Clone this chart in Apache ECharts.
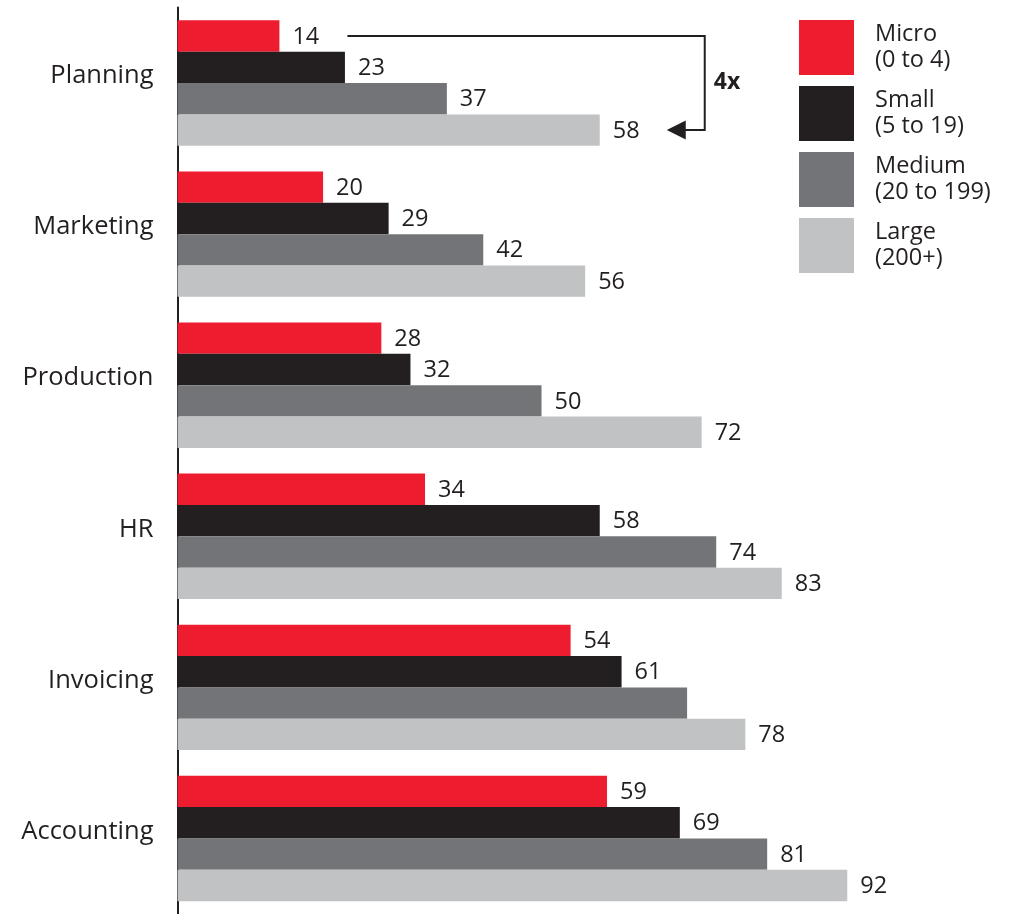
<!DOCTYPE html>
<html>
<head>
<meta charset="utf-8">
<script src="https://cdn.jsdelivr.net/npm/echarts@6/dist/echarts.min.js"></script>
<style>
  html, body { margin: 0; padding: 0; background: #fff; }
  #chart { width: 1013px; height: 914px; }
</style>
</head>
<body>
<div id="chart"></div>
<script>
// Business functions, top to bottom
const functions = ['Planning', 'Marketing', 'Production', 'HR', 'Invoicing', 'Accounting'];
// Firm size classes (number of employees)
const sizes = ['Micro', 'Small', 'Medium', 'Large'];
const sizeRanges = ['(0 to 4)', '(5 to 19)', '(20 to 199)', '(200+)'];
const sizeColors = ['#ED1C2E', '#231F20', '#737477', '#C1C2C4'];

// Share of firms (%) per function and size class
const micro  = [14, 20, 28, 34, 54, 59];
const small  = [23, 29, 32, 58, 61, 69];
const medium = [37, 42, 50, 74, 70, 81];
const large  = [58, 56, 72, 83, 78, 92];
// Values without a printed label
const unlabeled = { Medium: ['Invoicing'] };

const FONT = '"Open Sans", "Noto Sans", sans-serif';
const INK = '#231F20';
const CAT_GAP = 0.17;

const seriesValues = [micro, small, medium, large];

const chart = echarts.init(document.getElementById('chart'), null, { renderer: 'canvas' });

const series = sizes.map((name, i) => ({
  name: name,
  type: 'bar',
  data: seriesValues[i].map((v, j) => ({
    value: v,
    label: { show: !((unlabeled[name] || []).includes(functions[j])) }
  })),
  itemStyle: { color: sizeColors[i] },
  barGap: '0%',
  barCategoryGap: (CAT_GAP * 100) + '%',
  label: {
    show: true,
    position: 'right',
    distance: 13,
    offset: [0, 1],
    color: INK,
    fontFamily: FONT,
    fontSize: 23.5
  },
  silent: true
}));

chart.setOption({
  animation: false,
  backgroundColor: '#fff',
  grid: { left: 177.5, top: 7.5, width: 728, height: 910, containLabel: false },
  xAxis: {
    type: 'value', min: 0, max: 100,
    show: false
  },
  yAxis: {
    type: 'category',
    data: functions,
    inverse: true,
    axisLine: { show: true, lineStyle: { color: INK, width: 2 } },
    axisTick: { show: false },
    axisLabel: {
      color: INK, fontFamily: FONT, fontSize: 25.5, margin: 24,
      verticalAlign: 'bottom', lineHeight: 14
    }
  },
  legend: {
    orient: 'vertical',
    left: 799, top: 20,
    padding: 0,
    itemWidth: 55, itemHeight: 55, itemGap: 11,
    icon: 'rect',
    selectedMode: false,
    data: sizes,
    formatter: name => name + '\n' + sizeRanges[sizes.indexOf(name)],
    textStyle: {
      color: INK, fontFamily: FONT, fontSize: 23.5, lineHeight: 25.5,
      padding: [0, 0, 0, 16]
    }
  },
  series: series
});

// "4x" comparison bracket: from the Micro label to the Large bar in the first group
function drawBracket() {
  const cat0 = chart.convertToPixel({ gridIndex: 0 }, [0, 0]);
  const cat1 = chart.convertToPixel({ gridIndex: 0 }, [0, 1]);
  const band = Math.abs(cat1[1] - cat0[1]);
  const bw = band * (1 - CAT_GAP) / sizes.length;
  const yMicro = cat0[1] - 1.5 * bw;
  const yLarge = cat0[1] + 1.5 * bw;
  const xMicro = chart.convertToPixel({ gridIndex: 0 }, [micro[0], 0])[0];
  const xLarge = chart.convertToPixel({ gridIndex: 0 }, [large[0], 0])[0];

  const startX = xMicro + 68;
  const tipX = xLarge + 67;
  const rightX = tipX + 38;
  const headLen = 19, headHalf = 9.5;

  chart.setOption({
    graphic: [
      {
        type: 'polyline',
        shape: { points: [[startX, yMicro], [rightX, yMicro], [rightX, yLarge], [tipX + headLen - 1, yLarge]] },
        style: { stroke: INK, lineWidth: 2, fill: null },
        silent: true
      },
      {
        type: 'polygon',
        shape: { points: [[tipX, yLarge], [tipX + headLen, yLarge - headHalf], [tipX + headLen, yLarge + headHalf]] },
        style: { fill: INK },
        silent: true
      },
      {
        type: 'text',
        x: rightX + 9,
        y: (yMicro + yLarge) / 2 - 1,
        style: {
          text: Math.round(large[0] / micro[0]) + 'x',
          fill: INK,
          font: 'bold 23px ' + FONT,
          verticalAlign: 'middle',
          align: 'left'
        },
        silent: true
      }
    ]
  });
}
drawBracket();
</script>
</body>
</html>
